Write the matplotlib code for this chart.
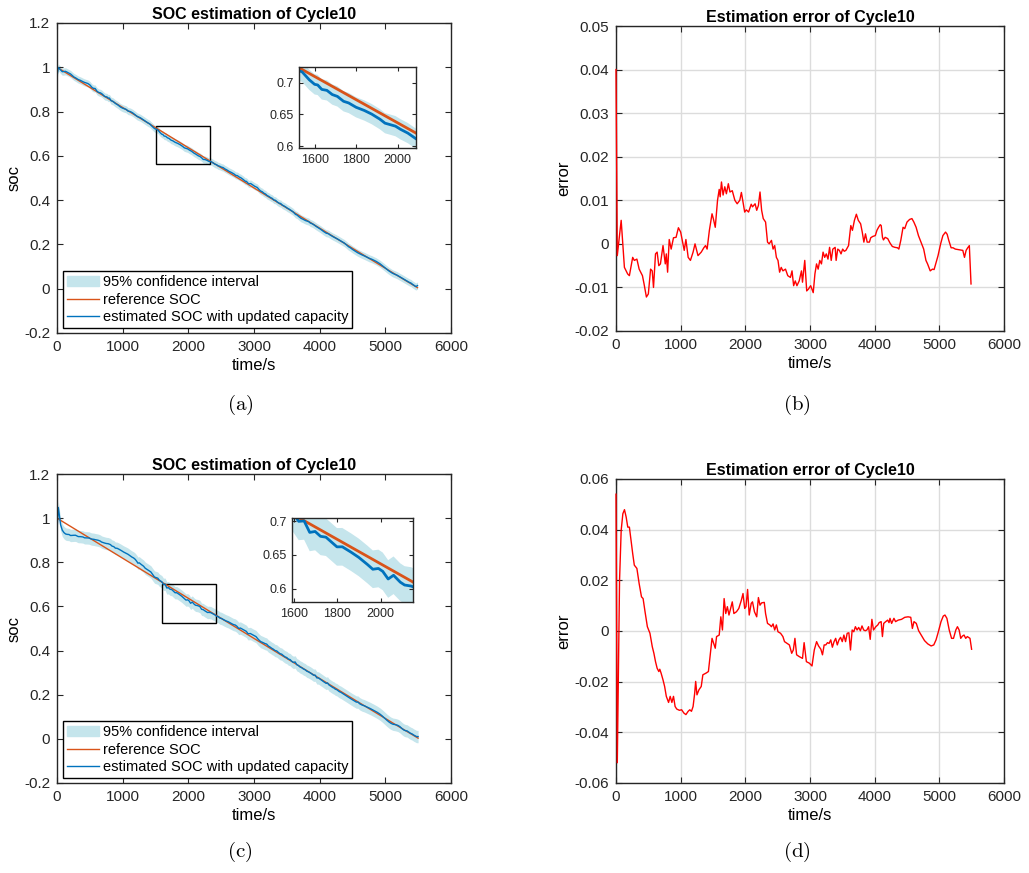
import numpy as np
import matplotlib
matplotlib.use('Agg')
import matplotlib.pyplot as plt
from matplotlib.patches import Rectangle, Patch
from matplotlib.lines import Line2D
from matplotlib.ticker import FuncFormatter

plt.rcParams['font.family'] = ['Liberation Sans', 'DejaVu Sans']
plt.rcParams['axes.unicode_minus'] = False
plt.rcParams['mathtext.fontset'] = 'cm'

# reference SOC (coulomb counting), read at a few knots
ref_t = [0, 1000, 2000, 3000, 4000, 5000, 5500]
ref_soc = [1.0, 0.818, 0.637, 0.455, 0.273, 0.092, 0.003]

# estimation error (reference - estimated), case 1 -> panels (a)/(b)
t_b = [0, 20, 80, 130, 180, 207, 258, 283, 323, 358, 409, 434, 470, 500, 535, 560, 580, 611, 636, 662,
       687, 727, 762, 778, 798, 823, 853, 889, 929, 965, 1000, 1040, 1055, 1081, 1116, 1151, 1192, 1222,
       1268, 1318, 1358, 1384, 1409, 1444, 1485, 1505, 1535, 1570, 1596, 1611, 1631, 1656, 1682, 1707,
       1737, 1762, 1798, 1838, 1874, 1914, 1939, 1959, 1990, 2015, 2050, 2091, 2111, 2151, 2176, 2202,
       2227, 2252, 2277, 2313, 2343, 2368, 2404, 2429, 2454, 2480, 2505, 2530, 2555, 2581, 2621, 2656,
       2697, 2722, 2747, 2772, 2798, 2833, 2868, 2884, 2919, 2949, 2975, 3010, 3050, 3076, 3101, 3126,
       3151, 3177, 3202, 3227, 3252, 3278, 3303, 3328, 3353, 3389, 3404, 3429, 3454, 3480, 3505, 3530,
       3555, 3596, 3631, 3656, 3687, 3717, 3747, 3783, 3808, 3833, 3858, 3884, 3919, 3939, 3970, 4010,
       4035, 4060, 4086, 4101, 4121, 4136, 4162, 4202, 4237, 4273, 4313, 4353, 4374, 4404, 4439, 4465,
       4500, 4540, 4576, 4606, 4641, 4677, 4717, 4758, 4793, 4818, 4859, 4894, 4919, 4944, 4980, 5020,
       5055, 5096, 5121, 5146, 5182, 5212, 5247, 5288, 5323, 5363, 5389, 5414, 5439, 5464, 5490]
err_b = [0.040, -0.0027, 0.0054, -0.0054, -0.0069, -0.0073, -0.0031, -0.0038, -0.0035, -0.0058, -0.0073,
         -0.0092, -0.0122, -0.0115, -0.0058, -0.0062, -0.0100, -0.0023, -0.0019, -0.0050, -0.0046, -0.0004,
         -0.0046, -0.0023, -0.0065, 0.0010, -0.0012, 0.0014, 0.0015, 0.0037, 0.0027, -0.0004, -0.0015,
         0.0010, -0.0031, -0.0038, -0.0019, 0.0, -0.0027, -0.0019, -0.0009, -0.0004, -0.0012, 0.0031,
         0.0069, 0.0058, 0.0038, 0.0100, 0.0125, 0.0108, 0.0142, 0.0112, 0.0131, 0.0115, 0.0138, 0.0119,
         0.0122, 0.0100, 0.0092, 0.0100, 0.0118, 0.0100, 0.0073, 0.0078, 0.0073, 0.0091, 0.0085, 0.0092,
         0.0077, 0.0088, 0.0119, 0.0077, 0.0058, 0.0050, 0.0004, 0.0, 0.0008, -0.0012, -0.0004, -0.0031,
         -0.0038, -0.0065, -0.0054, -0.0062, -0.0058, -0.0073, -0.0077, -0.0062, -0.0096, -0.0085, -0.0096,
         -0.0085, -0.0062, -0.0088, -0.0038, -0.0108, -0.0104, -0.0096, -0.0112, -0.0069, -0.0046, -0.0058,
         -0.0038, -0.0046, -0.0019, -0.0031, -0.0023, -0.0035, -0.0008, -0.0038, -0.0012, -0.0008, -0.0038,
         -0.0012, -0.0015, -0.0023, -0.0012, -0.0017, -0.0015, -0.0004, 0.0042, 0.0031, 0.0054, 0.0068,
         0.0054, 0.0046, 0.0027, 0.0004, 0.0023, 0.0004, 0.0004, 0.0014, 0.0017, 0.0019, 0.0031, 0.0038,
         0.0044, 0.0042, 0.0015, 0.0009, 0.0015, 0.0012, 0.0002, -0.0006, -0.0008, -0.0009, -0.0012, 0.0008,
         0.0038, 0.0035, 0.0050, 0.0056, 0.0058, 0.0050, 0.0038, 0.0019, 0.0004, -0.0012, -0.0038, -0.0046,
         -0.0062, -0.0058, -0.0059, -0.0046, -0.0027, 0.0, 0.0019, 0.0027, 0.0022, 0.0008, -0.0009, -0.0009,
         -0.0012, -0.0013, -0.0014, -0.0015, -0.0031, -0.0015, -0.0009, -0.0004, -0.0092]

# estimation error, case 2 -> panels (c)/(d)
t_d = [0, 20, 55, 80, 106, 131, 157, 182, 207, 232, 258, 283, 323, 358, 394, 419, 449, 485, 525, 561,
       586, 611, 636, 662, 677, 697, 727, 752, 778, 813, 838, 864, 889, 914, 939, 980, 1015, 1050, 1081,
       1116, 1141, 1167, 1192, 1217, 1232, 1252, 1283, 1318, 1343, 1394, 1429, 1459, 1485, 1510, 1535,
       1555, 1596, 1621, 1646, 1672, 1697, 1722, 1747, 1773, 1798, 1823, 1863, 1899, 1939, 1964, 1990,
       2010, 2035, 2060, 2091, 2111, 2141, 2176, 2202, 2227, 2252, 2293, 2313, 2343, 2379, 2404, 2429,
       2454, 2480, 2505, 2545, 2581, 2606, 2646, 2681, 2717, 2742, 2767, 2793, 2833, 2884, 2909, 2944,
       2990, 3031, 3066, 3102, 3132, 3168, 3193, 3219, 3244, 3270, 3295, 3321, 3346, 3372, 3397, 3422,
       3448, 3473, 3499, 3524, 3550, 3575, 3601, 3626, 3652, 3677, 3702, 3728, 3753, 3779, 3804, 3830,
       3855, 3880, 3906, 3931, 3957, 3982, 4018, 4049, 4069, 4100, 4120, 4140, 4171, 4201, 4222, 4237,
       4262, 4298, 4323, 4364, 4415, 4466, 4517, 4558, 4583, 4608, 4644, 4680, 4720, 4771, 4822, 4873,
       4914, 4949, 4985, 5026, 5061, 5087, 5117, 5153, 5189, 5219, 5255, 5280, 5306, 5331, 5357, 5382,
       5408, 5433, 5474, 5499]
err_d = [0.054, -0.052, 0.0201, 0.0397, 0.0463, 0.0479, 0.0450, 0.0410, 0.0410, 0.0358, 0.0306, 0.0260,
         0.0247, 0.0187, 0.0135, 0.0128, 0.0076, 0.0017, -0.0009, -0.0062, -0.0088, -0.0121, -0.0147,
         -0.0160, -0.0151, -0.0166, -0.0193, -0.0219, -0.0258, -0.0282, -0.0258, -0.0282, -0.0258, -0.0298,
         -0.0308, -0.0313, -0.0311, -0.0324, -0.0330, -0.0317, -0.0311, -0.0317, -0.0298, -0.0245, -0.0199,
         -0.0252, -0.0232, -0.0219, -0.0173, -0.0166, -0.0160, -0.0088, -0.0029, -0.0049, -0.0068, -0.0022,
         -0.0016, 0.0056, 0.0004, 0.0128, 0.0069, 0.0096, 0.0063, 0.0089, 0.0115, 0.0069, 0.0076, 0.0089,
         0.0122, 0.0148, 0.0089, 0.0096, 0.0164, 0.0063, 0.0109, 0.0115, 0.0076, 0.0056, 0.0132, 0.0102,
         0.0111, 0.0113, 0.0069, 0.0030, 0.0024, 0.0017, 0.0028, 0.0004, 0.0024, -0.0003, -0.0009, -0.0022,
         -0.0042, -0.0049, -0.0055, -0.0088, -0.0075, -0.0029, -0.0094, -0.0101, -0.0108, -0.0046, -0.0121,
         -0.0127, -0.0138, -0.0075, -0.0042, -0.0059, -0.0072, -0.0094, -0.0055, -0.0055, -0.0046, -0.0049,
         -0.0035, -0.0064, -0.0042, -0.0029, -0.0055, -0.0035, -0.0025, -0.0042, -0.0016, -0.0042, -0.0009,
         -0.0007, -0.0075, 0.0004, -0.0003, 0.0017, 0.0004, 0.0014, 0.0001, 0.0020, 0.0004, 0.0001, 0.0004,
         0.0017, -0.0033, 0.0046, 0.0004, 0.0017, 0.0024, 0.0033, 0.0037, -0.0022, 0.0030, 0.0037, 0.0043,
         0.0033, 0.0050, 0.0030, 0.0050, 0.0037, 0.0043, 0.0046, 0.0054, 0.0056, 0.0054, 0.0010, 0.0037,
         0.0030, 0.0001, -0.0016, -0.0038, -0.0051, -0.0059, -0.0055, -0.0035, -0.0003, 0.0037, 0.0059,
         0.0063, 0.0050, 0.0004, -0.0029, -0.0029, 0.0004, 0.0017, 0.0004, -0.0029, -0.0020, -0.0016,
         -0.0029, -0.0022, -0.0029, -0.0072]

ci_half_a = 0.016   # half width of 95% band, case 1
ci_half_c = 0.028   # half width of 95% band, case 2

zoom_a = dict(box=(1505, 0.565, 823, 0.168), xlim=(1520, 2090), ylim=(0.597, 0.725))
zoom_c = dict(box=(1605, 0.526, 823, 0.177), xlim=(1590, 2150), ylim=(0.58, 0.705))

C_REF = '#D95319'
C_EST = '#0072BD'
C_BAND = '#C5E5EC'
C_AX = '#262626'

W, H = 1029, 873
fig = plt.figure(figsize=(W / 100, H / 100), dpi=100)

def px(l, t, r, b):
    return [l / W, 1 - b / H, (r - l) / W, (b - t) / H]

fmt = FuncFormatter(lambda v, _: f'{round(v, 6):g}')

def style(ax, size=11, pad=5):
    ax.tick_params(direction='in', top=True, right=True, labelsize=size, colors=C_AX, length=4, width=0.8, pad=pad)
    for s in ax.spines.values():
        s.set_color(C_AX)
        s.set_linewidth(1.0)
    ax.xaxis.set_major_formatter(fmt)
    ax.yaxis.set_major_formatter(fmt)

def soc_panel(rect, inset_rect, t, err, half, zoom):
    t = np.array(t)
    ref = np.interp(t, ref_t, ref_soc)
    est = ref - np.array(err)
    ax = fig.add_axes(rect)
    ax.fill_between(t, est - half, est + half, color=C_BAND, lw=0)
    ax.plot(t, ref, color=C_REF, lw=1.0)
    ax.plot(t, est, color=C_EST, lw=1.0)
    bx, by, bw, bh = zoom['box']
    ax.add_patch(Rectangle((bx, by), bw, bh, fill=False, ec='black', lw=1.0))
    ax.set_xlim(0, 6000)
    ax.set_ylim(-0.2, 1.2)
    ax.set_xticks(np.arange(0, 6001, 1000))
    ax.set_yticks(np.arange(-0.2, 1.21, 0.2))
    ax.set_title('SOC estimation of Cycle10', fontsize=11.5, fontweight='bold', pad=3)
    ax.set_xlabel('time/s', fontsize=12, labelpad=3)
    ax.set_ylabel('soc', fontsize=12, labelpad=2)
    style(ax)
    handles = [Patch(color=C_BAND), Line2D([], [], color=C_REF, lw=1.0), Line2D([], [], color=C_EST, lw=1.0)]
    labels = ['95% confidence interval', 'reference SOC', 'estimated SOC with updated capacity']
    leg = ax.legend(handles, labels, loc='lower left', bbox_to_anchor=(0.015, 0.016), borderaxespad=0,
                    fontsize=10.5, fancybox=False, framealpha=1, edgecolor='black', handlelength=2.2,
                    handletextpad=0.3, labelspacing=0.25, borderpad=0.25)
    leg.get_frame().set_linewidth(1.0)

    ins = fig.add_axes(inset_rect)
    ins.fill_between(t, est - half, est + half, color=C_BAND, lw=0)
    ins.plot(t, ref, color=C_REF, lw=2.0)
    ins.plot(t, est, color=C_EST, lw=2.0)
    ins.set_xlim(*zoom['xlim'])
    ins.set_ylim(*zoom['ylim'])
    ins.set_xticks([1600, 1800, 2000])
    ins.set_yticks([0.6, 0.65, 0.7])
    style(ins, size=9, pad=4)
    ins.tick_params(length=3)

def err_panel(rect, t, err, ylim, step):
    ax = fig.add_axes(rect)
    ax.plot(t, err, color='red', lw=1.0, zorder=3, clip_on=False)
    ax.set_xlim(0, 6000)
    ax.set_ylim(*ylim)
    ax.set_xticks(np.arange(0, 6001, 1000))
    ax.set_yticks(np.arange(ylim[0], ylim[1] + step / 2, step))
    ax.grid(True, color='#DCDCDC', lw=1.0)
    ax.set_axisbelow(True)
    ax.set_title('Estimation error of Cycle10', fontsize=11.5, fontweight='bold', pad=3)
    ax.set_xlabel('time/s', fontsize=12, labelpad=3)
    ax.set_ylabel('error', fontsize=12, labelpad=2)
    style(ax)

soc_panel(px(57, 23, 451, 333), px(299, 67, 416, 148), t_b, err_b, ci_half_a, zoom_a)
err_panel(px(616, 26, 1004, 331), t_b, err_b, (-0.02, 0.05), 0.01)
soc_panel(px(57, 474, 451, 783), px(292, 518, 413, 602), t_d, err_d, ci_half_c, zoom_c)
err_panel(px(616, 479, 1004, 783), t_d, err_d, (-0.06, 0.06), 0.02)

for x, y, s in [(240, 405, 'a'), (797, 405, 'b'), (240, 852, 'c'), (797, 852, 'd')]:
    fig.text(x / W, 1 - y / H, r'$\mathrm{(' + s + ')}$', ha='center', va='center', fontsize=15)

fig.savefig('out.png', dpi=100)
